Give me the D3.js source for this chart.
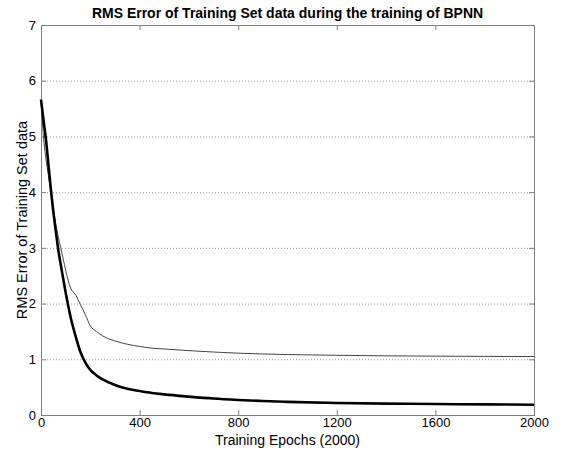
<!DOCTYPE html>
<html>
<head>
<meta charset="utf-8">
<script src="https://cdn.jsdelivr.net/npm/d3@7"></script>
<style>
	body { margin: 0; background: #fff; }
	text { font-family: "Liberation Sans", Arial, sans-serif; }
</style>
</head>
<body>
<script>
// values
const epochs     = [0, 10, 20, 30, 40, 50, 60, 70, 80, 90, 100, 110, 120, 140, 160, 180, 200, 225, 250, 300, 350, 400, 450, 500, 600, 700, 800, 900, 1000, 1200, 1400, 1600, 1800, 2000];
const err_thick  = [5.66, 5.3, 4.95, 4.5, 4.05, 3.65, 3.3, 2.97, 2.7, 2.45, 2.2, 1.97, 1.76, 1.42, 1.13, 0.94, 0.81, 0.71, 0.64, 0.54, 0.47, 0.43, 0.395, 0.37, 0.33, 0.295, 0.27, 0.25, 0.235, 0.215, 0.205, 0.197, 0.19, 0.185];
const err_thin   = [5.66, 5.0, 4.6, 4.3, 4.0, 3.7, 3.42, 3.2, 3.0, 2.8, 2.6, 2.42, 2.28, 2.16, 1.98, 1.8, 1.6, 1.5, 1.42, 1.33, 1.27, 1.23, 1.2, 1.185, 1.155, 1.13, 1.11, 1.095, 1.085, 1.072, 1.062, 1.056, 1.052, 1.05];
const x_ticks    = [0, 400, 800, 1200, 1600, 2000];
const y_ticks    = [0, 1, 2, 3, 4, 5, 6, 7];
const grid_lines = [1, 2, 3, 4, 5, 6];

const svg_width = 563, svg_height = 452;
const plot_left = 41, plot_right = 534, plot_top = 25, plot_bottom = 415;

var svg = d3.select('body').append('svg')
	.attr('width', svg_width)
	.attr('height', svg_height);

var x = d3.scaleLinear().domain([0, 2000]).range([plot_left, plot_right]);
var y = d3.scaleLinear().domain([0, 7]).range([plot_bottom, plot_top]);

// dotted horizontal grid
svg.append('g')
	.selectAll('line')
	.data(grid_lines)
	.enter()
	.append('line')
		.attr('x1', plot_left)
		.attr('x2', plot_right)
		.attr('y1', function(d) { return y(d) + 0.5; })
		.attr('y2', function(d) { return y(d) + 0.5; })
		.attr('stroke', '#9a9a9a')
		.attr('stroke-width', 1)
		.attr('stroke-dasharray', '1,2');

function style_axis(g, show_labels)
{
	g.select('.domain').remove();
	g.selectAll('.tick line').attr('stroke', '#808080');
	g.selectAll('.tick text')
		.attr('fill', '#000')
		.style('font-size', '13px')
		.style('display', show_labels ? null : 'none');
}

svg.append('g')
	.attr('transform', 'translate(0,' + plot_bottom + ')')
	.call(d3.axisBottom(x).tickValues(x_ticks).tickFormat(d3.format('d')).tickSizeInner(-5).tickSizeOuter(0).tickPadding(3))
	.call(function(g) { style_axis(g, true); });

svg.append('g')
	.attr('transform', 'translate(0,' + plot_top + ')')
	.call(d3.axisTop(x).tickValues(x_ticks).tickSizeInner(-5).tickSizeOuter(0))
	.call(function(g) { style_axis(g, false); });

svg.append('g')
	.attr('transform', 'translate(' + plot_left + ',0)')
	.call(d3.axisLeft(y).tickValues(y_ticks).tickFormat(d3.format('d')).tickSizeInner(-5).tickSizeOuter(0).tickPadding(5))
	.call(function(g) { style_axis(g, true); });

svg.append('g')
	.attr('transform', 'translate(' + plot_right + ',0)')
	.call(d3.axisRight(y).tickValues(y_ticks).tickSizeInner(-5).tickSizeOuter(0))
	.call(function(g) { style_axis(g, false); });

// box
svg.append('rect')
	.attr('x', plot_left + 0.5)
	.attr('y', plot_top + 0.5)
	.attr('width', plot_right - plot_left)
	.attr('height', plot_bottom - plot_top)
	.attr('fill', 'none')
	.attr('stroke', '#808080')
	.attr('stroke-width', 1);

var line = function(values)
{
	return d3.line()
		.x(function(d, i) { return x(epochs[i]); })
		.y(function(d) { return y(d); })
		.curve(d3.curveMonotoneX)(values);
};

svg.append('path')
	.attr('d', line(err_thin))
	.attr('fill', 'none')
	.attr('stroke', '#444')
	.attr('stroke-width', 1);

svg.append('path')
	.attr('d', line(err_thick))
	.attr('fill', 'none')
	.attr('stroke', '#000')
	.attr('stroke-width', 2.6);

svg.append('text')
	.attr('x', (plot_left + plot_right) / 2)
	.attr('y', 18)
	.attr('text-anchor', 'middle')
	.style('font-size', '14px')
	.style('font-weight', 'bold')
	.text('RMS Error of Training Set data during the training of BPNN');

svg.append('text')
	.attr('x', (plot_left + plot_right) / 2)
	.attr('y', 445)
	.attr('text-anchor', 'middle')
	.style('font-size', '14px')
	.text('Training Epochs (2000)');

svg.append('text')
	.attr('transform', 'translate(27,' + (plot_top + plot_bottom) / 2 + ') rotate(-90)')
	.attr('text-anchor', 'middle')
	.style('font-size', '14.5px')
	.text('RMS Error of Training Set data');
</script>
</body>
</html>
